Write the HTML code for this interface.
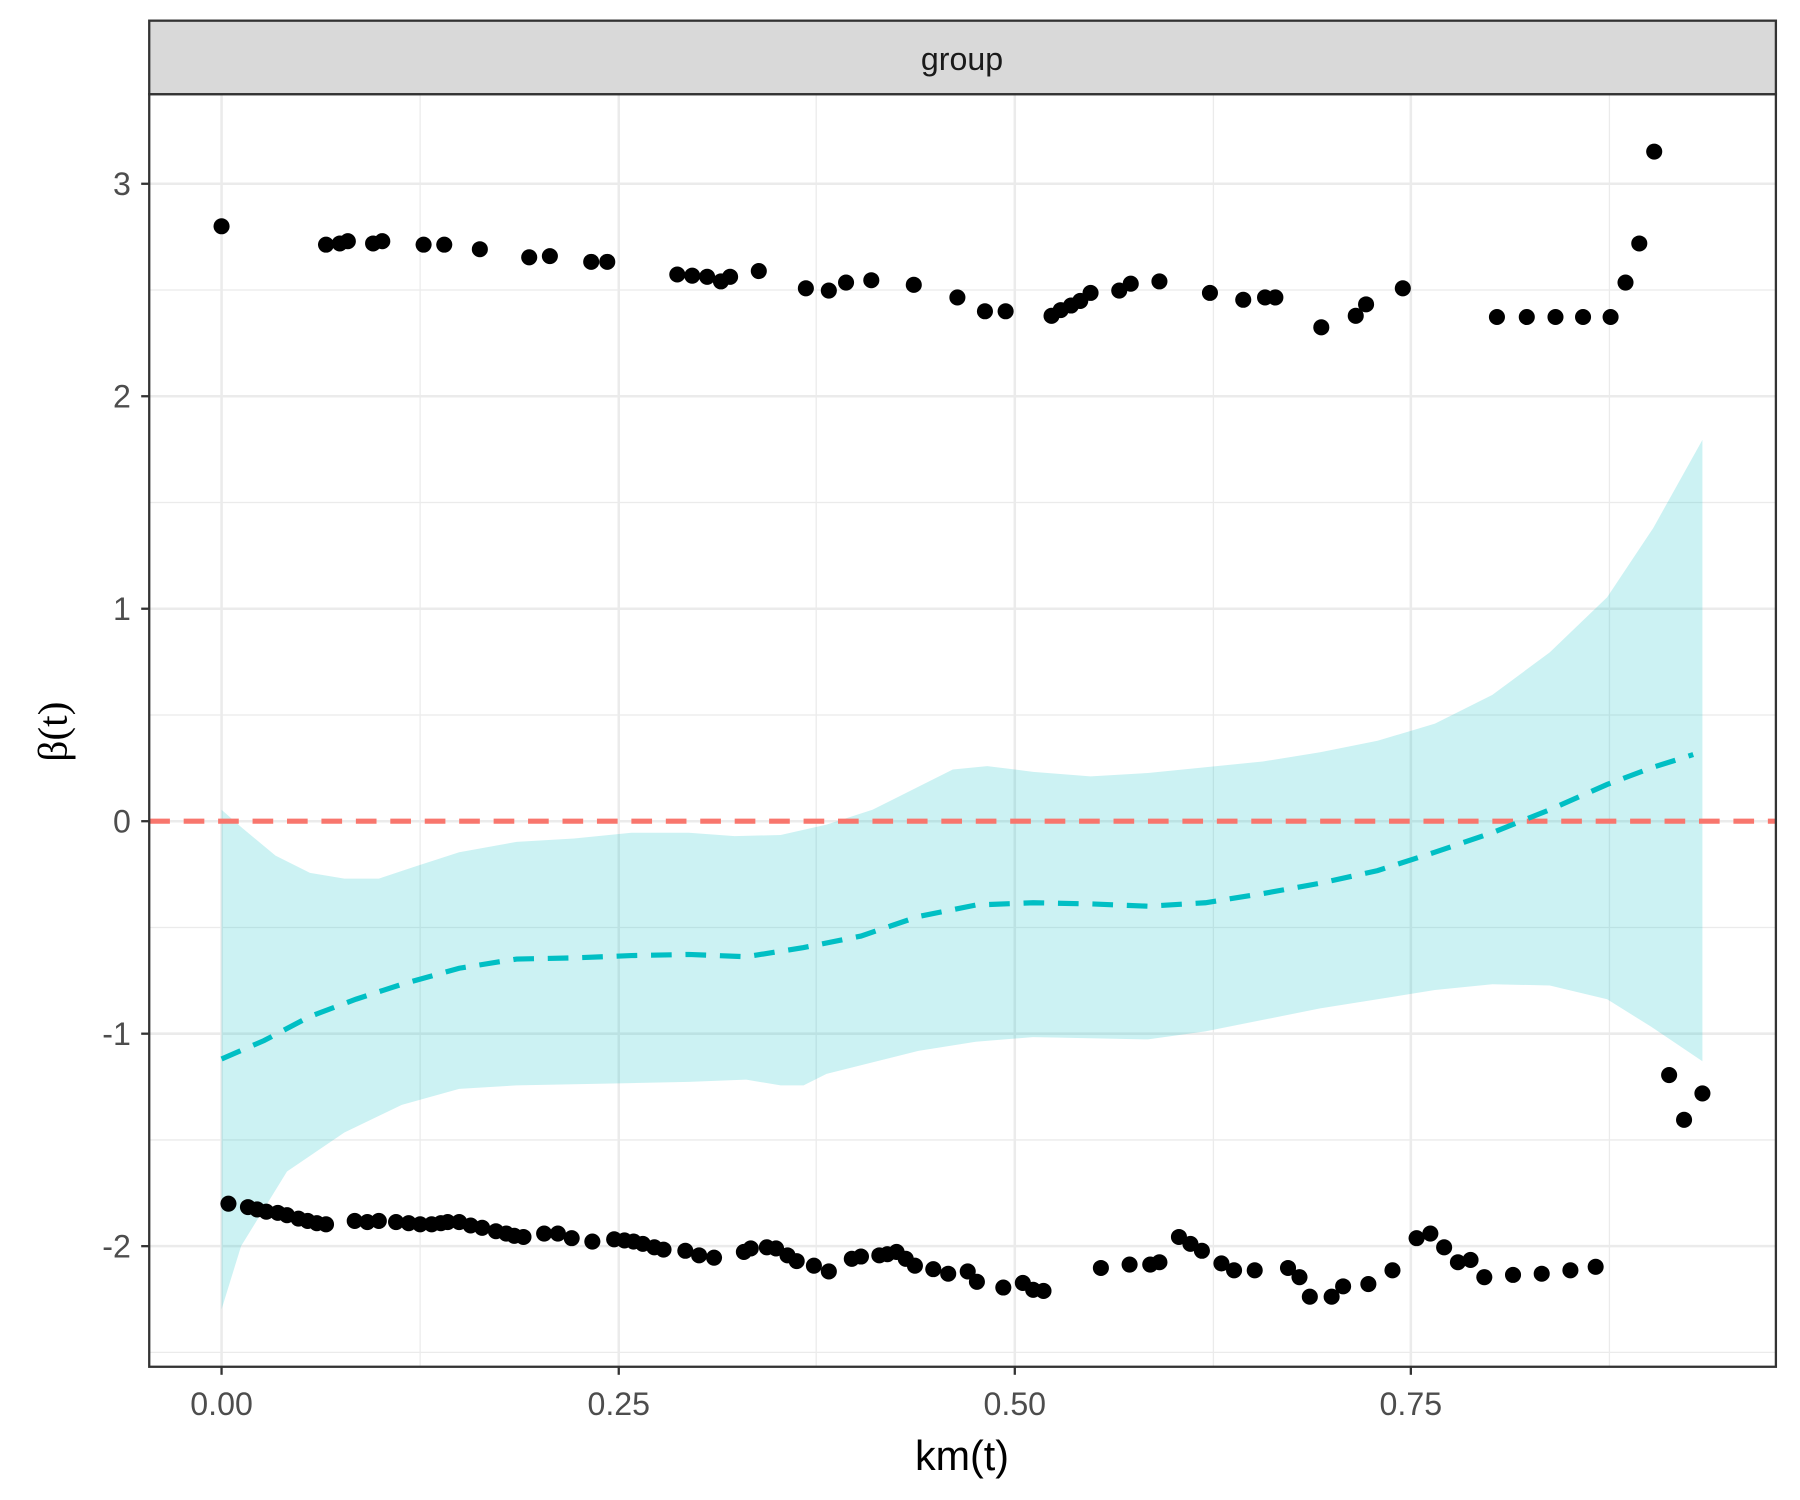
<!DOCTYPE html>
<html><head><meta charset="utf-8"><style>html,body{margin:0;padding:0;background:#fff}svg{display:block}</style></head><body>
<svg width="1800" height="1500" viewBox="0 0 1568 1306" preserveAspectRatio="none" xmlns="http://www.w3.org/2000/svg" font-family="Liberation Sans, sans-serif">
<rect width="1568" height="1306" fill="#fff"/>
<g stroke="#EBEBEB" stroke-width="1.1">
<line x1="366" y1="82" x2="366" y2="1190"/><line x1="711" y1="82" x2="711" y2="1190"/><line x1="1057" y1="82" x2="1057" y2="1190"/><line x1="1402" y1="82" x2="1402" y2="1190"/>
<line x1="130" y1="252.5" x2="1547" y2="252.5"/><line x1="130" y1="437.5" x2="1547" y2="437.5"/><line x1="130" y1="622.5" x2="1547" y2="622.5"/><line x1="130" y1="807.5" x2="1547" y2="807.5"/><line x1="130" y1="992.5" x2="1547" y2="992.5"/><line x1="130" y1="1177.5" x2="1547" y2="1177.5"/>
</g>
<g stroke="#EBEBEB" stroke-width="2.2">
<line x1="193" y1="82" x2="193" y2="1190"/><line x1="539" y1="82" x2="539" y2="1190"/><line x1="884" y1="82" x2="884" y2="1190"/><line x1="1229" y1="82" x2="1229" y2="1190"/>
<line x1="130" y1="160" x2="1547" y2="160"/><line x1="130" y1="345" x2="1547" y2="345"/><line x1="130" y1="530" x2="1547" y2="530"/><line x1="130" y1="715" x2="1547" y2="715"/><line x1="130" y1="900" x2="1547" y2="900"/><line x1="130" y1="1085" x2="1547" y2="1085"/>
</g>
<path fill="#00BFC4" fill-opacity="0.2" d="M193,705 L210,720 L240,745 L270,760 L300,765 L330,765 L360,755 L400,742 L450,733 L500,730 L550,725 L600,725 L640,728 L680,727 L720,718 L760,705 L800,685 L830,670 L860,667 L900,672 L950,676 L1000,673 L1050,668 L1100,663 L1150,655 L1200,645 L1250,630 L1300,605 L1350,568 L1400,520 L1440,460 L1483,383 L1483,924 L1440,895 L1400,870 L1350,858 L1300,857 L1250,862 L1200,870 L1150,878 L1100,888 L1050,898 L1000,905 L950,904 L900,903 L850,907 L800,915 L760,925 L720,935 L700,945 L680,945 L650,940 L600,942 L550,943 L500,944 L450,945 L400,948 L350,962 L300,986 L250,1020 L210,1085 L193,1140 Z"/>
<line x1="130" y1="715" x2="1547" y2="715" stroke="#F8766D" stroke-width="4.5" stroke-dasharray="18 12"/>
<polyline fill="none" stroke="#00BFC4" stroke-width="4.5" stroke-dasharray="18 12" points="193,922 230,906 270,885 310,870 350,857 400,843 450,835 500,834 550,832 600,831 650,833 700,825 750,815 800,798 850,788 900,786 950,787 1000,789 1050,786 1100,778 1150,769 1200,758 1250,742 1300,725 1350,705 1400,683 1440,668 1475,657"/>
<g fill="#000">
<circle cx="193" cy="197" r="7"/><circle cx="284" cy="213" r="7"/><circle cx="296" cy="212" r="7"/><circle cx="303" cy="210" r="7"/><circle cx="325" cy="212" r="7"/><circle cx="333" cy="210" r="7"/><circle cx="369" cy="213" r="7"/><circle cx="387" cy="213" r="7"/><circle cx="418" cy="217" r="7"/><circle cx="461" cy="224" r="7"/><circle cx="479" cy="223" r="7"/><circle cx="515" cy="228" r="7"/><circle cx="529" cy="228" r="7"/><circle cx="590" cy="239" r="7"/><circle cx="603" cy="240" r="7"/><circle cx="616" cy="241" r="7"/><circle cx="628" cy="245" r="7"/><circle cx="636" cy="241" r="7"/><circle cx="661" cy="236" r="7"/><circle cx="702" cy="251" r="7"/><circle cx="722" cy="253" r="7"/><circle cx="737" cy="246" r="7"/><circle cx="759" cy="244" r="7"/><circle cx="796" cy="248" r="7"/><circle cx="834" cy="259" r="7"/><circle cx="858" cy="271" r="7"/><circle cx="876" cy="271" r="7"/><circle cx="916" cy="275" r="7"/><circle cx="924" cy="270" r="7"/><circle cx="933" cy="266" r="7"/><circle cx="941" cy="262" r="7"/><circle cx="950" cy="255" r="7"/><circle cx="975" cy="253" r="7"/><circle cx="985" cy="247" r="7"/><circle cx="1010" cy="245" r="7"/><circle cx="1054" cy="255" r="7"/><circle cx="1083" cy="261" r="7"/><circle cx="1102" cy="259" r="7"/><circle cx="1111" cy="259" r="7"/><circle cx="1151" cy="285" r="7"/><circle cx="1181" cy="275" r="7"/><circle cx="1190" cy="265" r="7"/><circle cx="1222" cy="251" r="7"/><circle cx="1304" cy="276" r="7"/><circle cx="1330" cy="276" r="7"/><circle cx="1355" cy="276" r="7"/><circle cx="1379" cy="276" r="7"/><circle cx="1403" cy="276" r="7"/><circle cx="1416" cy="246" r="7"/><circle cx="1428" cy="212" r="7"/><circle cx="1441" cy="132" r="7"/><circle cx="1454" cy="936" r="7"/><circle cx="1467" cy="975" r="7"/><circle cx="1483" cy="952" r="7"/>
<circle cx="199" cy="1048" r="7"/><circle cx="216" cy="1051" r="7"/><circle cx="224" cy="1053" r="7"/><circle cx="232" cy="1055" r="7"/><circle cx="242" cy="1056" r="7"/><circle cx="250" cy="1058" r="7"/><circle cx="260" cy="1061" r="7"/><circle cx="268" cy="1063" r="7"/><circle cx="276" cy="1065" r="7"/><circle cx="284" cy="1066" r="7"/><circle cx="309" cy="1063" r="7"/><circle cx="320" cy="1064" r="7"/><circle cx="330" cy="1063" r="7"/><circle cx="345" cy="1064" r="7"/><circle cx="356" cy="1065" r="7"/><circle cx="366" cy="1066" r="7"/><circle cx="376" cy="1066" r="7"/><circle cx="384" cy="1065" r="7"/><circle cx="390" cy="1064" r="7"/><circle cx="400" cy="1064" r="7"/><circle cx="410" cy="1067" r="7"/><circle cx="420" cy="1069" r="7"/><circle cx="432" cy="1072" r="7"/><circle cx="441" cy="1074" r="7"/><circle cx="448" cy="1076" r="7"/><circle cx="456" cy="1077" r="7"/><circle cx="474" cy="1074" r="7"/><circle cx="486" cy="1074" r="7"/><circle cx="498" cy="1078" r="7"/><circle cx="516" cy="1081" r="7"/><circle cx="535" cy="1079" r="7"/><circle cx="544" cy="1080" r="7"/><circle cx="552" cy="1081" r="7"/><circle cx="560" cy="1083" r="7"/><circle cx="570" cy="1086" r="7"/><circle cx="578" cy="1088" r="7"/><circle cx="597" cy="1089" r="7"/><circle cx="609" cy="1093" r="7"/><circle cx="622" cy="1095" r="7"/><circle cx="648" cy="1090" r="7"/><circle cx="654" cy="1087" r="7"/><circle cx="668" cy="1086" r="7"/><circle cx="676" cy="1087" r="7"/><circle cx="686" cy="1093" r="7"/><circle cx="694" cy="1098" r="7"/><circle cx="709" cy="1102" r="7"/><circle cx="722" cy="1107" r="7"/><circle cx="742" cy="1096" r="7"/><circle cx="750" cy="1094" r="7"/><circle cx="766" cy="1093" r="7"/><circle cx="773" cy="1092" r="7"/><circle cx="781" cy="1090" r="7"/><circle cx="789" cy="1096" r="7"/><circle cx="797" cy="1102" r="7"/><circle cx="813" cy="1105" r="7"/><circle cx="826" cy="1109" r="7"/><circle cx="843" cy="1107" r="7"/><circle cx="851" cy="1116" r="7"/><circle cx="874" cy="1121" r="7"/><circle cx="891" cy="1117" r="7"/><circle cx="900" cy="1123" r="7"/><circle cx="909" cy="1124" r="7"/><circle cx="959" cy="1104" r="7"/><circle cx="984" cy="1101" r="7"/><circle cx="1002" cy="1101" r="7"/><circle cx="1010" cy="1099" r="7"/><circle cx="1027" cy="1077" r="7"/><circle cx="1037" cy="1083" r="7"/><circle cx="1047" cy="1089" r="7"/><circle cx="1064" cy="1100" r="7"/><circle cx="1075" cy="1106" r="7"/><circle cx="1093" cy="1106" r="7"/><circle cx="1122" cy="1104" r="7"/><circle cx="1132" cy="1112" r="7"/><circle cx="1141" cy="1129" r="7"/><circle cx="1160" cy="1129" r="7"/><circle cx="1170" cy="1120" r="7"/><circle cx="1192" cy="1118" r="7"/><circle cx="1213" cy="1106" r="7"/><circle cx="1234" cy="1078" r="7"/><circle cx="1246" cy="1074" r="7"/><circle cx="1258" cy="1086" r="7"/><circle cx="1270" cy="1099" r="7"/><circle cx="1281" cy="1097" r="7"/><circle cx="1293" cy="1112" r="7"/><circle cx="1318" cy="1110" r="7"/><circle cx="1343" cy="1109" r="7"/><circle cx="1368" cy="1106" r="7"/><circle cx="1390" cy="1103" r="7"/>
</g>
<rect x="130" y="82" width="1417" height="1108" fill="none" stroke="#333" stroke-width="2"/>
<rect x="130" y="18" width="1417" height="64" fill="#D9D9D9" stroke="#333" stroke-width="2"/>
<text x="838" y="61" font-size="28" text-anchor="middle" fill="#1A1A1A">group</text>
<g stroke="#333" stroke-width="2">
<line x1="123" y1="160" x2="130" y2="160"/><line x1="123" y1="345" x2="130" y2="345"/><line x1="123" y1="530" x2="130" y2="530"/><line x1="123" y1="715" x2="130" y2="715"/><line x1="123" y1="900" x2="130" y2="900"/><line x1="123" y1="1085" x2="130" y2="1085"/>
<line x1="193" y1="1190" x2="193" y2="1197"/><line x1="539" y1="1190" x2="539" y2="1197"/><line x1="884" y1="1190" x2="884" y2="1197"/><line x1="1229" y1="1190" x2="1229" y2="1197"/>
</g>
<g font-size="28" fill="#4D4D4D" text-anchor="end">
<text x="114" y="170">3</text><text x="114" y="355">2</text><text x="114" y="540">1</text><text x="114" y="725">0</text><text x="114" y="910">-1</text><text x="114" y="1095">-2</text>
</g>
<g font-size="28" fill="#4D4D4D" text-anchor="middle">
<text x="193" y="1232">0.00</text><text x="539" y="1232">0.25</text><text x="884" y="1232">0.50</text><text x="1229" y="1232">0.75</text>
</g>
<text x="838" y="1280" font-size="36" text-anchor="middle" fill="#000">km(t)</text>
<text transform="translate(58,637) rotate(-90)" font-size="36" text-anchor="middle" fill="#000" font-family="Liberation Serif, serif">β(t)</text>
</svg>
</body></html>
